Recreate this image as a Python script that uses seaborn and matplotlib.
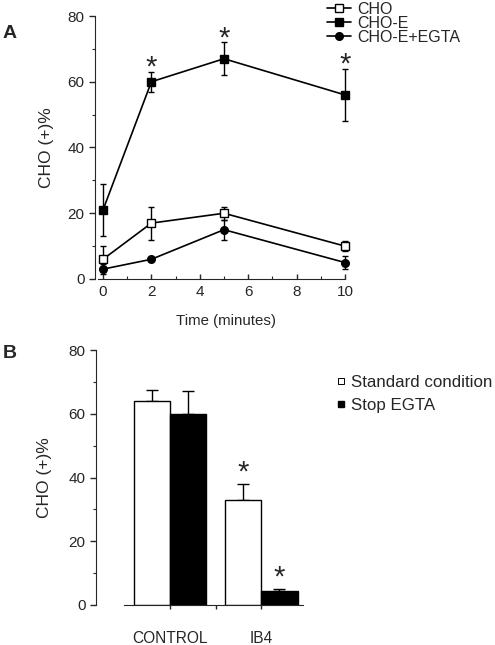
import matplotlib
matplotlib.use("Agg")
from matplotlib import pyplot as plt
from matplotlib.lines import Line2D
from matplotlib.ticker import MultipleLocator, FixedLocator
import pandas as pd
import numpy as np
import seaborn as sns

# panel A: time course
times = [0, 2, 5, 10]
cho = [6, 17, 20, 10]
cho_err = [4, 5, 2, 1.5]
cho_e = [21, 60, 67, 56]
cho_e_err = [8, 3, 5, 8]
cho_egta = [3, 6, 15, 5]
cho_egta_err = [1.5, 0.5, 3, 2]

# panel B: bars
groups = ['CONTROL', 'IB4']
conditions = ['Standard condition', 'Stop EGTA']
standard = [64, 33]
standard_err = [3.5, 5]
stop_egta = [60, 4.5]
stop_egta_err = [7, 0.6]

sns.set_style('ticks')
plt.rcParams['font.family'] = ['Liberation Sans', 'DejaVu Sans']

fig = plt.figure(figsize=(4.95, 6.45), dpi=100)

# ---------- A ----------
ppu = (345 - 103) / 10  # pixels per minute
axA = fig.add_axes([95 / 495, 1 - 279 / 645, (8 + 10.5 * ppu) / 495, (279 - 16) / 645])
series = [
    ('CHO', cho, cho_err, 's', 'white'),
    ('CHO-E', cho_e, cho_e_err, 's', 'black'),
    ('CHO-E+EGTA', cho_egta, cho_egta_err, 'o', 'black'),
]
handles = []
for name, vals, errs, mk, fc in series:
    d = pd.DataFrame({'t': times, 'v': vals})
    sns.lineplot(data=d, x='t', y='v', ax=axA, color='black', lw=1.2,
                 marker=mk, markersize=5.5, markerfacecolor=fc,
                 markeredgecolor='black', markeredgewidth=1, zorder=3)
    axA.errorbar(times, vals, yerr=errs, fmt='none', ecolor='black',
                 elinewidth=1, capsize=2, capthick=1, zorder=2)
    handles.append(Line2D([], [], color='black', lw=1.2, marker=mk, markersize=5.5,
                          markerfacecolor=fc, markeredgecolor='black'))

for t, v, e in zip(times[1:], cho_e[1:], cho_e_err[1:]):
    axA.text(t, v + e + 1.2, '*', ha='center', va='center', fontsize=21)

axA.set_xlim(-8 / ppu, 10.5)
axA.set_ylim(0, 80)
axA.set_xticks([0, 2, 4, 6, 8, 10])
axA.set_yticks([0, 20, 40, 60, 80])
axA.xaxis.set_minor_locator(MultipleLocator(1))
axA.yaxis.set_minor_locator(MultipleLocator(10))
axA.spines['top'].set_visible(False)
axA.spines['right'].set_visible(False)
axA.spines['bottom'].set_bounds(-0.2, 10)
axA.tick_params(axis='y', which='major', length=4, width=1, labelsize=11)
axA.tick_params(axis='y', which='minor', length=2.5, width=0.8)
axA.tick_params(axis='x', which='major', direction='in', length=3.5, width=1,
                labelsize=11, pad=4)
axA.tick_params(axis='x', which='minor', direction='in', length=2.5, width=0.8)
axA.set_xlabel('Time (minutes)', fontsize=10.8, labelpad=11)
axA.set_ylabel('CHO (+)%', fontsize=12.5, labelpad=10)
fig.legend(handles, [s[0] for s in series], loc='upper left',
           bbox_to_anchor=(327 / 495, 1 - 2 / 645), frameon=False,
           fontsize=11.5, handlelength=1.5, handletextpad=0.4, labelspacing=-0.06,
           borderaxespad=0, borderpad=0)

fig.text(10 / 495, 1 - 33 / 645, 'A', fontsize=14, fontweight='bold', va='center', ha='center')

# ---------- B ----------
axB = fig.add_axes([96 / 495, 1 - 605 / 645, (303 - 96) / 495, (605 - 350) / 645])
bdf = pd.DataFrame({
    'group': groups * 2,
    'condition': [conditions[0]] * 2 + [conditions[1]] * 2,
    'value': standard + stop_egta,
})
sns.barplot(data=bdf, x='group', y='value', hue='condition', ax=axB,
            palette=['white', 'black'], edgecolor='black', linewidth=1,
            errorbar=None, legend=False, saturation=1)
errs_all = standard_err + stop_egta_err
vals_all = standard + stop_egta
bars = [p for p in axB.patches if p.get_height() > 0]
for p, v, e in zip(bars, vals_all, errs_all):
    cx = p.get_x() + p.get_width() / 2
    axB.errorbar([cx], [v], yerr=[[0], [e]], fmt='none', ecolor='black',
                 elinewidth=1, capsize=4, capthick=1, zorder=0)
# asterisks over IB4 bars
for p, v, e in zip([bars[1], bars[3]], [standard[1], stop_egta[1]], [standard_err[1], stop_egta_err[1]]):
    cx = p.get_x() + p.get_width() / 2
    axB.text(cx, v + e + 3.5, '*', ha='center', va='center', fontsize=21)

axB.set_xlim(-0.813, 1.46)
axB.set_ylim(0, 80)
axB.set_yticks([0, 20, 40, 60, 80])
axB.yaxis.set_minor_locator(MultipleLocator(10))
axB.xaxis.set_minor_locator(FixedLocator([0.5]))
axB.spines['top'].set_visible(False)
axB.spines['right'].set_visible(False)
axB.spines['bottom'].set_bounds(-0.505, 1.46)
axB.tick_params(axis='y', which='major', length=4, width=1, labelsize=11)
axB.tick_params(axis='y', which='minor', length=2.5, width=0.8)
axB.tick_params(axis='x', which='both', length=3, width=1, labelsize=11.2, pad=16)
axB.set_xlabel('')
axB.set_ylabel('CHO (+)%', fontsize=12.5, labelpad=12)
bh = [Line2D([], [], ls='none', marker='s', markersize=5, markerfacecolor='white',
             markeredgecolor='black', markeredgewidth=0.7),
      Line2D([], [], ls='none', marker='s', markersize=5, markerfacecolor='black',
             markeredgecolor='black')]
fig.legend(bh, conditions, loc='upper left', bbox_to_anchor=(336 / 495, 1 - 375 / 645),
           frameon=False, fontsize=12.2, handlelength=0.6, handletextpad=0.3,
           labelspacing=0.45, borderaxespad=0, borderpad=0)

fig.text(10 / 495, 1 - 354 / 645, 'B', fontsize=14, fontweight='bold', va='center', ha='center')

fig.savefig('out.png', dpi=100)
